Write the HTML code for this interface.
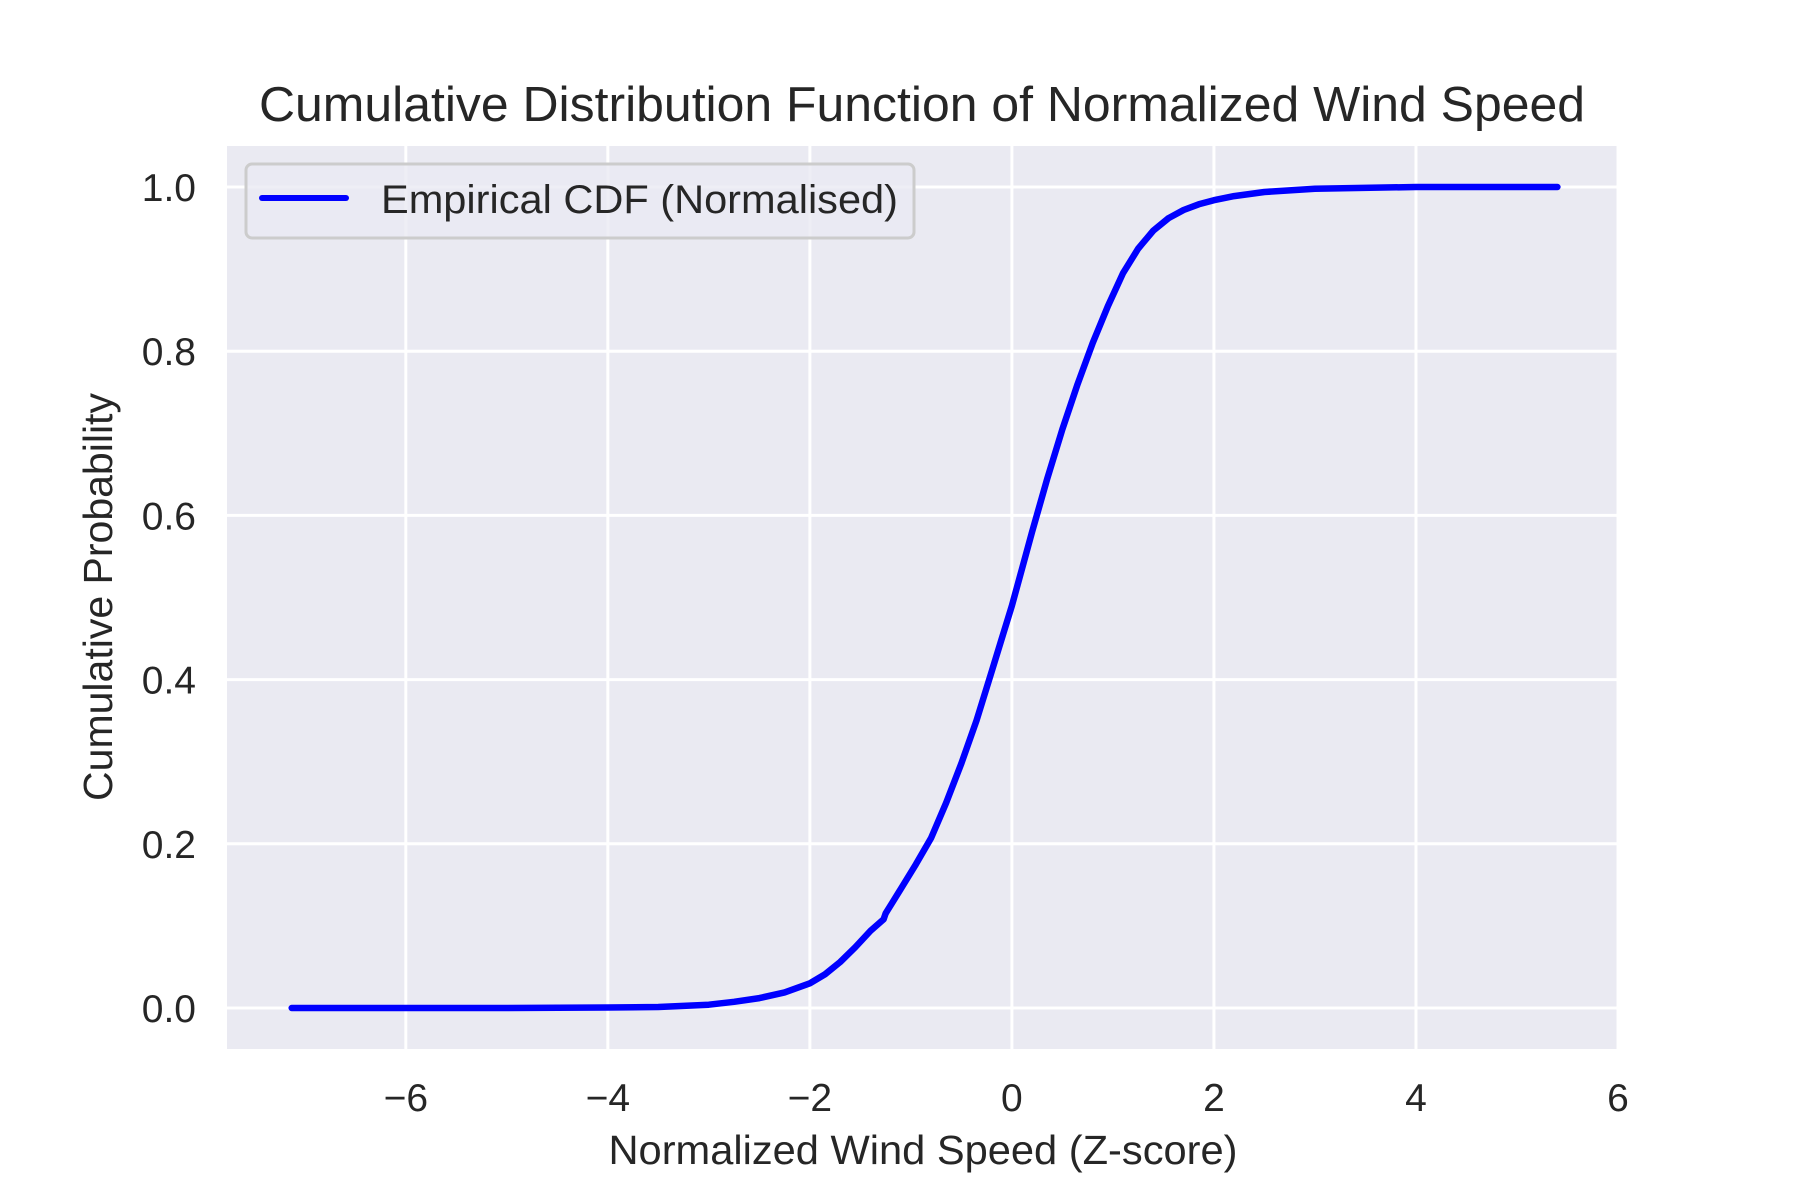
<!DOCTYPE html>
<html><head><meta charset="utf-8"><style>
html,body{margin:0;padding:0;background:#fff;}
svg{display:block;font-family:"Liberation Sans",Arial,sans-serif;}
</style></head><body>
<svg id="chart" width="1800" height="1200" viewBox="0 0 1800 1200" xmlns="http://www.w3.org/2000/svg">
<rect x="0" y="0" width="1800" height="1200" fill="#ffffff"/>
<rect x="227" y="146" width="1391" height="903" fill="#eaeaf2"/>
<g id="grid"></g>
<g id="xticks" font-size="39" fill="#262626" text-anchor="middle"></g>
<g id="yticks" font-size="39" fill="#262626" text-anchor="end"></g>
<g id="series"></g>
<text x="922" y="121" font-size="49" fill="#262626" text-anchor="middle" textLength="1326" lengthAdjust="spacingAndGlyphs">Cumulative Distribution Function of Normalized Wind Speed</text>
<text x="923" y="1164" font-size="41" fill="#262626" text-anchor="middle" textLength="629" lengthAdjust="spacingAndGlyphs">Normalized Wind Speed (Z-score)</text>
<text x="0" y="0" font-size="41" fill="#262626" text-anchor="middle" transform="translate(112,597) rotate(-90)">Cumulative Probability</text>
<g>
<rect x="246" y="164" width="668" height="74" rx="6" fill="#eaeaf2" fill-opacity="0.8" stroke="#cccccc" stroke-width="3"/>
<line x1="262" y1="198" x2="346" y2="198" stroke="#0000ff" stroke-width="6" stroke-linecap="round"/>
<text x="381" y="213" font-size="40" fill="#262626" textLength="517" lengthAdjust="spacingAndGlyphs">Empirical CDF (Normalised)</text>
</g>
</svg>
<script>
const xData = [-7.13,-5,-4,-3.5,-3.25,-3,-2.75,-2.5,-2.25,-2,-1.85,-1.7,-1.55,-1.4,-1.27,-1.25,-1.1,-0.95,-0.8,-0.65,-0.5,-0.35,-0.2,-0.1,0,0.1,0.2,0.35,0.5,0.65,0.8,0.95,1.1,1.25,1.4,1.55,1.7,1.85,2.0,2.2,2.5,3,4,5.4];
const yData = [0,0,0.0005,0.0012,0.0025,0.004,0.0075,0.012,0.019,0.03,0.041,0.056,0.074,0.094,0.108,0.115,0.145,0.175,0.207,0.25,0.298,0.35,0.41,0.45,0.49,0.535,0.58,0.645,0.705,0.76,0.81,0.855,0.895,0.925,0.947,0.962,0.972,0.979,0.984,0.989,0.994,0.998,1.0,1.0];
const xTicks = [-6,-4,-2,0,2,4,6];
const xTickLabels = ["\u22126","\u22124","\u22122","0","2","4","6"];
const yTicks = [0,0.2,0.4,0.6,0.8,1.0];
const yTickLabels = ["0.0","0.2","0.4","0.6","0.8","1.0"];

const L=227,R=1618,T=146,B=1049;
const xMin=-7.77,xMax=6.0,yMin=-0.05,yMax=1.05;
const NS="http://www.w3.org/2000/svg";
function sx(v){return L+(v-xMin)/(xMax-xMin)*(R-L);}
function sy(v){return B-(v-yMin)/(yMax-yMin)*(B-T);}
const grid=document.getElementById('grid');
const xt=document.getElementById('xticks');
const yt=document.getElementById('yticks');
xTicks.forEach((v,i)=>{
  const x=sx(v);
  if(x>=L-1&&x<=R+1){
    const g=document.createElementNS(NS,'line');
    
    
    g.setAttribute('x1',x);g.setAttribute('x2',x);g.setAttribute('y1',T);g.setAttribute('y2',B);
    g.setAttribute('stroke','#fff');g.setAttribute('stroke-width','3');
    grid.appendChild(g);
  }
  const t=document.createElementNS(NS,'text');
  
  
  t.setAttribute('x',x);t.setAttribute('y',1111);
  t.textContent=xTickLabels[i];
  xt.appendChild(t);
});
yTicks.forEach((v,i)=>{
  const y=sy(v);
  const g=document.createElementNS(NS,'line');
  
  
  g.setAttribute('x1',L);g.setAttribute('x2',R);g.setAttribute('y1',y);g.setAttribute('y2',y);
  g.setAttribute('stroke','#fff');g.setAttribute('stroke-width','3');
  grid.appendChild(g);
  const t=document.createElementNS(NS,'text');
  
  
  t.setAttribute('x',196);t.setAttribute('y',y+14);
  t.textContent=yTickLabels[i];
  yt.appendChild(t);
});
const p=document.createElementNS(NS,'path');


p.setAttribute('d',xData.map((v,i)=>(i?'L':'M')+sx(v).toFixed(1)+' '+sy(yData[i]).toFixed(1)).join(' '));
p.setAttribute('fill','none');p.setAttribute('stroke','#0000ff');p.setAttribute('stroke-width','6.5');
p.setAttribute('stroke-linecap','round');p.setAttribute('stroke-linejoin','round');
document.getElementById('series').appendChild(p);
</script>
</body></html>
